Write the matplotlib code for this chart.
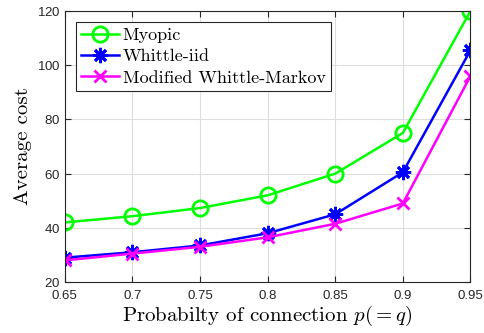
#!/usr/bin/env python3
# -*- coding: utf-8 -*-

"""Average cost vs probability of connection."""

import matplotlib
matplotlib.use("Agg")
import matplotlib.pyplot as plt

p_values = [0.65, 0.7, 0.75, 0.8, 0.85, 0.9, 0.95]
myopic = [42, 44.3, 47.3, 52, 60, 75, 120]
whittle_iid = [29, 31, 33.5, 38, 45, 60.5, 105.5]
modified_markov = [28, 30.5, 33, 36.5, 41.5, 49, 96]

x_ticks = [0.65, 0.7, 0.75, 0.8, 0.85, 0.9, 0.95]
x_tick_labels = ["0.65", "0.7", "0.75", "0.8", "0.85", "0.9", "0.95"]
y_ticks = [20, 40, 60, 80, 100, 120]

AXIS_GRAY = "#262626"
SERIF = ["cmr10", "DejaVu Serif"]


def main():
    """Main function."""
    plt.rcParams["mathtext.fontset"] = "cm"
    plt.rcParams["axes.formatter.use_mathtext"] = True

    fig = plt.figure(figsize=(4.84, 3.33), dpi=100)
    ax = fig.add_axes([0.134, 0.153, 0.838, 0.814])

    ax.plot(p_values, myopic, color="#00ff00", lw=1.8, marker="o",
            ms=11, mfc="none", mew=2, label="Myopic")
    ax.plot(p_values, whittle_iid, color="#0000ff", lw=1.8, marker=(8, 2, 0),
            ms=11, mew=2, label="Whittle-iid")
    ax.plot(p_values, modified_markov, color="#ff00ff", lw=1.8, marker="x",
            ms=9, mew=2, label="Modified Whittle-Markov")

    ax.set_xlim(0.65, 0.95)
    ax.set_ylim(20, 120)
    ax.set_xticks(x_ticks)
    ax.set_xticklabels(x_tick_labels)
    ax.set_yticks(y_ticks)
    ax.grid(True, color="#dedede", lw=0.8)
    ax.set_axisbelow(True)

    ax.tick_params(direction="in", top=True, right=True, length=4,
                   colors=AXIS_GRAY, labelsize=9.5, labelcolor=AXIS_GRAY)
    ax.tick_params(axis="x", pad=6)
    ax.tick_params(axis="y", pad=3)
    for label in ax.get_xticklabels() + ax.get_yticklabels():
        label.set_family("Liberation Sans")
    for spine in ax.spines.values():
        spine.set_color(AXIS_GRAY)
        spine.set_linewidth(0.8)

    ax.set_xlabel(r"Probabilty of connection $p(=q)$", family=SERIF,
                  fontsize=15, labelpad=1)
    ax.set_ylabel("Average cost", family=SERIF, fontsize=15, labelpad=4)

    leg = ax.legend(loc="upper left", prop={"family": SERIF, "size": 13},
                    fancybox=False, edgecolor=AXIS_GRAY, framealpha=1,
                    handlelength=2.1, handletextpad=0.2, borderpad=0.3,
                    labelspacing=0.32, borderaxespad=0,
                    bbox_to_anchor=(0.027, 0.96))
    leg.get_frame().set_linewidth(0.8)

    fig.savefig("out.png", dpi=100)


if __name__ == "__main__":
    main()
